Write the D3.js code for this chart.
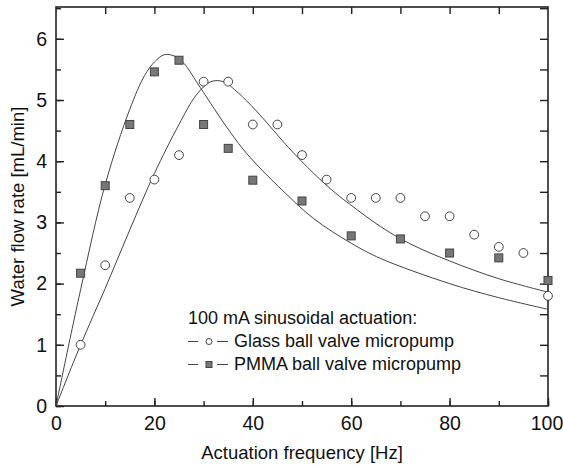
<!DOCTYPE html>
<html lang="en">
<head>
    <meta charset="UTF-8">
    <title>Water flow rate vs actuation frequency</title>
    <style>
        body {
            margin: 0;
            background: #fff;
        }
        svg {
            font-family: "Liberation Sans", Arial, sans-serif;
        }
        .frame {
            fill: none;
            stroke: #222;
            stroke-width: 1.6;
        }
        .tick line {
            stroke: #222;
            stroke-width: 1.4;
        }
        .fit {
            fill: none;
            stroke: #444;
            stroke-width: 1;
        }
        .glass {
            fill: #fff;
            stroke: #444;
            stroke-width: 1;
        }
        .pmma {
            fill: #777;
            stroke: #444;
            stroke-width: 1;
        }
    </style>
</head>
<body>
    <svg width="563" height="468"></svg>
    <script src="https://d3js.org/d3.v7.min.js"></script>
    <script>
        // measured points
        const freq = [5, 10, 15, 20, 25, 30, 35, 40, 45, 50, 55, 60, 65, 70, 75, 80, 85, 90, 95, 100];
        const glassFlow = [1.0, 2.3, 3.4, 3.7, 4.1, 5.3, 5.3, 4.6, 4.6, 4.1, 3.7, 3.4, 3.4, 3.4, 3.1, 3.1, 2.8, 2.6, 2.5, 1.8];

        const pmmaFreq = [5, 10, 15, 20, 25, 30, 35, 40, 50, 60, 70, 80, 90, 100];
        const pmmaFlow = [2.17, 3.6, 4.6, 5.46, 5.65, 4.6, 4.21, 3.69, 3.35, 2.78, 2.73, 2.5, 2.42, 2.05];

        // fitted curves
        const glassFitX = [0, 5, 10, 15, 20, 25, 28.5, 31.5, 34, 37, 40.5, 43.6, 47.3, 52.4, 56.8, 60, 66, 72, 80, 90, 100];
        const glassFitY = [0, 1.0, 1.92, 2.88, 3.8, 4.6, 5.08, 5.3, 5.3, 5.12, 4.84, 4.56, 4.22, 3.8, 3.48, 3.28, 2.93, 2.65, 2.37, 2.08, 1.86];

        const pmmaFitX = [0, 5, 10, 15, 18, 20, 22, 24, 26, 28.7, 34.4, 38, 41.2, 46.6, 52.4, 60, 66, 80, 90, 100];
        const pmmaFitY = [0, 1.9, 3.62, 4.85, 5.4, 5.62, 5.74, 5.72, 5.6, 5.28, 4.59, 4.2, 3.91, 3.48, 3.06, 2.66, 2.41, 2.0, 1.77, 1.58];

        const xTicks = [0, 20, 40, 60, 80, 100];
        const yTicks = [0, 1, 2, 3, 4, 5, 6];

        const legendTitle = "100 mA sinusoidal actuation:";
        const legendNames = ["Glass ball valve micropump", "PMMA ball valve micropump"];

        const svg = d3.select("svg");
        const margin = {top: 7, right: 15, bottom: 62, left: 56};
        const width = +svg.attr("width") - margin.left - margin.right;
        const height = +svg.attr("height") - margin.top - margin.bottom;

        const x = d3.scaleLinear().domain([0, 100]).range([0, width]);
        const y = d3.scaleLinear().domain([0, 6.52]).range([height, 0]);

        const g = svg.append("g")
            .attr("transform", `translate(${margin.left},${margin.top})`);

        // axes, ticks pointing inward
        const xMinor = d3.range(0, 101, 10);
        const yMinor = d3.range(0, 6.51, 0.5);

        g.append("g")
            .attr("transform", `translate(0,${height})`)
            .call(d3.axisBottom(x).tickValues(xMinor).tickSize(-5).tickFormat(""));
        const bottom = g.append("g")
            .attr("transform", `translate(0,${height})`)
            .call(d3.axisBottom(x).tickValues(xTicks).tickSize(-8).tickPadding(10).tickFormat(d3.format("d")));
        bottom.selectAll("text").attr("font-size", 19.5).attr("fill", "#111");
        // last label sits against the window edge
        bottom.selectAll("text").filter(d => d === 100).attr("dx", -1.5);

        g.append("g")
            .call(d3.axisLeft(y).tickValues(yMinor).tickSize(-5).tickFormat(""));
        const left = g.append("g")
            .call(d3.axisLeft(y).tickValues(yTicks).tickSize(-8).tickPadding(9).tickFormat(d3.format("d")));
        left.selectAll("text").attr("font-size", 19.5).attr("fill", "#111");

        g.append("g")
            .call(d3.axisTop(x).tickValues(xMinor.slice(1, -1)).tickSize(-7).tickFormat(""));
        g.append("g")
            .attr("transform", `translate(${width},0)`)
            .call(d3.axisRight(y).tickValues(yMinor.slice(1)).tickSize(-8).tickFormat(""));

        g.selectAll(".domain").remove();
        g.selectAll(".tick text").attr("font-family", null);

        g.append("rect")
            .attr("class", "frame")
            .attr("width", width)
            .attr("height", height);

        // fit curves
        const curve = d3.line()
            .x(d => x(d[0]))
            .y(d => y(d[1]))
            .curve(d3.curveCatmullRom.alpha(0.5));

        g.append("path")
            .attr("class", "fit")
            .attr("d", curve(d3.zip(glassFitX, glassFitY)));
        g.append("path")
            .attr("class", "fit")
            .attr("d", curve(d3.zip(pmmaFitX, pmmaFitY)));

        // markers
        g.selectAll(".glass")
            .data(d3.zip(freq, glassFlow))
            .enter().append("circle")
            .attr("class", "glass")
            .attr("cx", d => x(d[0]))
            .attr("cy", d => y(d[1]))
            .attr("r", 4.4);

        const sq = 8;
        g.selectAll(".pmma")
            .data(d3.zip(pmmaFreq, pmmaFlow))
            .enter().append("rect")
            .attr("class", "pmma")
            .attr("x", d => x(d[0]) - sq / 2)
            .attr("y", d => y(d[1]) - sq / 2)
            .attr("width", sq)
            .attr("height", sq);

        // axis titles
        svg.append("text")
            .attr("x", margin.left + width / 2)
            .attr("y", 459)
            .attr("text-anchor", "middle")
            .attr("font-size", 18.5)
            .attr("fill", "#111")
            .text("Actuation frequency [Hz]");

        svg.append("text")
            .attr("transform", `translate(24,${margin.top + height / 2}) rotate(-90)`)
            .attr("text-anchor", "middle")
            .attr("font-size", 18.5)
            .attr("fill", "#111")
            .text("Water flow rate [mL/min]");

        // legend
        const legend = svg.append("g").attr("transform", "translate(188,324)");
        legend.append("text")
            .attr("font-size", 18)
            .attr("fill", "#111")
            .text(legendTitle);

        legendNames.forEach((name, i) => {
            const row = legend.append("g").attr("transform", `translate(0,${23 * (i + 1)})`);
            row.append("line").attr("class", "fit").attr("x1", 0).attr("x2", 10).attr("y1", -5.5).attr("y2", -5.5);
            row.append("line").attr("class", "fit").attr("x1", 29).attr("x2", 40).attr("y1", -5.5).attr("y2", -5.5);
            if (i === 0) {
                row.append("circle").attr("class", "glass").attr("cx", 21).attr("cy", -5.5).attr("r", 3);
            } else {
                row.append("rect").attr("class", "pmma").attr("x", 18).attr("y", -8.5).attr("width", 6).attr("height", 6);
            }
            row.append("text")
                .attr("x", 46)
                .attr("font-size", 18)
                .attr("fill", "#111")
                .text(name);
        });
    </script>
</body>
</html>
